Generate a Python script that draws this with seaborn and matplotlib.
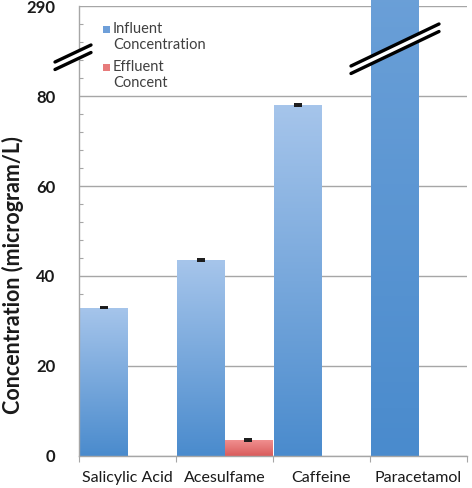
import numpy as np
import pandas as pd
import matplotlib
matplotlib.use("Agg")
import matplotlib.pyplot as plt
import seaborn as sns
from matplotlib.colors import LinearSegmentedColormap
from matplotlib.lines import Line2D
from matplotlib.patches import Rectangle

compounds = ["Salicylic Acid", "Acesulfame", "Caffeine", "Paracetamol"]
influent = [33.0, 43.5, 78.0, 290.0]
effluent = [0.0, 3.6, 0.0, 0.0]
influent_err = [0.2, 0.2, 0.2, 0.0]
effluent_err = [0.0, 0.2, 0.0, 0.0]
series = ["Influent\nConcentration", "Effluent\nConcent"]
ytick_vals = [0, 20, 40, 60, 80, 100]
ytick_labels = ["0", "20", "40", "60", "80", "290"]
axis_max = 100

df = pd.DataFrame({
    "compound": compounds * 2,
    "series": [series[0]] * 4 + [series[1]] * 4,
    "value": influent + effluent,
    "err": influent_err + effluent_err,
})

sns.set_theme(style="white")
plt.rcParams["font.family"] = ["Lato", "DejaVu Sans"]

fig = plt.figure(figsize=(4.72, 4.88), dpi=100)
ax = fig.add_axes([79 / 472, 32 / 488, (467 - 79) / 472, (482 - 32) / 488])

blue_light, blue_dark = "#a6c5eb", "#4a8bcd"
red_light, red_dark = "#f29292", "#d95c5c"

sns.barplot(data=df, x="compound", y="value", hue="series", order=compounds,
            hue_order=series, palette=[blue_dark, red_dark], width=0.98,
            errorbar=None, ax=ax, legend=False, saturation=1)

cmaps = {
    0: LinearSegmentedColormap.from_list("b", [blue_dark, blue_light]),
    1: LinearSegmentedColormap.from_list("r", [red_dark, red_light]),
}
grad = np.linspace(0, 1, 256).reshape(-1, 1)
bars = ax.patches[:]
for k, p in enumerate(bars):
    s = k // len(compounds)
    h = df["value"].iloc[k]
    if h <= 0:
        continue
    x0 = p.get_x()
    w = p.get_width()
    p.set_facecolor("none")
    p.set_edgecolor("none")
    im = ax.imshow(grad, cmap=cmaps[s], origin="lower", aspect="auto",
                   extent=[x0, x0 + w, 0, h], zorder=2, interpolation="bilinear")
    im.set_clip_path(Rectangle((x0, 0), w, h, transform=ax.transData))
    err = df["err"].iloc[k]
    if err > 0:
        ax.errorbar(x0 + w / 2, h, yerr=err, fmt="none", ecolor="#1a1a1a",
                    elinewidth=1.0, capsize=3, capthick=1.4, zorder=4)
ax.set_xlim(-0.5, len(compounds) - 0.5)
ax.set_ylim(0, axis_max)

# axes styling
for side in ["top", "right"]:
    ax.spines[side].set_visible(False)
for side in ["left", "bottom"]:
    ax.spines[side].set_color("#a6a6a6")
    ax.spines[side].set_linewidth(1.0)

ax.set_yticks(ytick_vals)
ax.set_yticklabels(ytick_labels, fontsize=12, fontweight="bold", color="#1a1a1a")
ax.set_yticks(np.arange(0, axis_max + 1, 4), minor=True)
ax.tick_params(axis="y", which="major", length=0, pad=17)
ax.tick_params(axis="y", which="minor", direction="in", length=3, color="#a6a6a6", width=0.8, left=True)
ax.yaxis.grid(True, which="major", color="#a6a6a6", linewidth=1.0)
ax.set_axisbelow(True)

ax.set_xticks(range(len(compounds)))
ax.set_xticklabels(compounds, fontsize=11.5, color="#1a1a1a")
ax.set_xticks(np.arange(-0.5, len(compounds)), minor=True)
ax.tick_params(axis="x", which="major", length=0, pad=11)
ax.tick_params(axis="x", which="minor", direction="out", length=4, color="#a6a6a6", width=0.8, bottom=True)
ax.set_xlabel("")
ax.set_ylabel("Concentration (microgram/L)", fontsize=15.5, fontweight="bold",
              color="#1a1a1a")
ax.yaxis.set_label_coords((24 - 79) / 388, (456 - 275) / 450, transform=ax.transAxes)

# gap in 80 gridline (legend box)
ax.add_patch(Rectangle((157 / 472, 90 / 488), (235 - 157) / 472, 12 / 488,
                       transform=fig.transFigure, facecolor="white", edgecolor="none",
                       zorder=1.5))

# legend (manual, to keep the swatch aligned with the first text line)
legend_colors = ["#6e9fd9", "#e77b7b"]
legend_tops = [30, 68]
for lab, c, ty in zip(series, legend_colors, legend_tops):
    fig.patches.append(Rectangle((103 / 472, 1 - (ty + 3) / 488), 7 / 472, 7 / 488,
                                 transform=fig.transFigure, facecolor=c, edgecolor="none"))
    fig.text(113 / 472, 1 - (ty - 8) / 488, lab, fontsize=10.5, color="#404040",
             va="top", ha="left", linespacing=1.15)

# break marks
def brk(x0, y0, x1, y1):
    for dy in (0, 7.5):
        ax.add_line(Line2D([x0 / 472, x1 / 472], [1 - (y0 + dy) / 488, 1 - (y1 + dy) / 488],
                           transform=fig.transFigure, color="black", lw=2.4,
                           clip_on=False, zorder=6))
    ax.add_line(Line2D([x0 / 472, x1 / 472], [1 - (y0 + 3.75) / 488, 1 - (y1 + 3.75) / 488],
                       transform=fig.transFigure, color="white", lw=4,
                       clip_on=False, zorder=5))

brk(55, 62, 91, 45)
brk(351, 66, 439, 24)

fig.savefig("out.png", dpi=100)
